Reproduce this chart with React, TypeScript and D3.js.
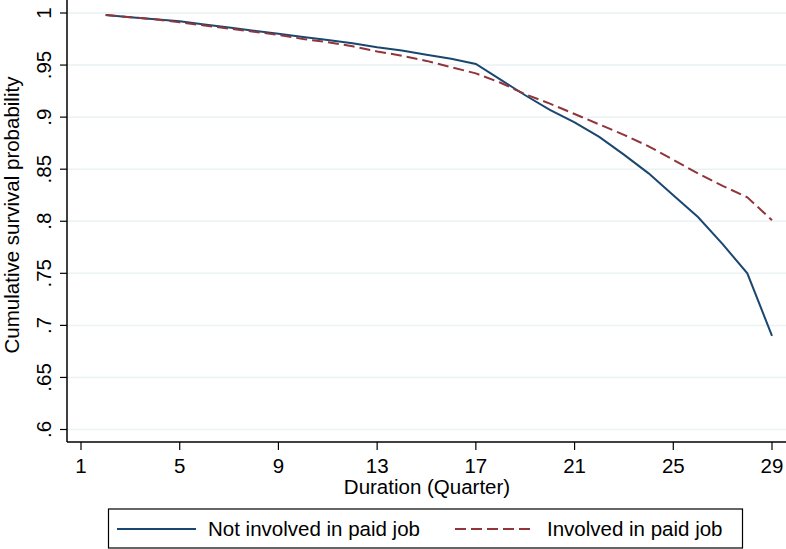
import React from "react";
import * as d3 from "d3";

const quarters = [2, 3, 4, 5, 6, 7, 8, 9, 10, 11, 12, 13, 14, 15, 16, 17, 18, 19, 20, 21, 22, 23, 24, 25, 26, 27, 28, 29];
const notInvolved = [0.998, 0.996, 0.994, 0.992, 0.989, 0.986, 0.983, 0.98, 0.977, 0.974, 0.971, 0.967, 0.964, 0.96, 0.956, 0.951, 0.936, 0.921, 0.907, 0.895, 0.881, 0.864, 0.846, 0.825, 0.804, 0.778, 0.75, 0.69];
const involved = [0.998, 0.996, 0.994, 0.991, 0.988, 0.985, 0.982, 0.979, 0.975, 0.972, 0.968, 0.963, 0.959, 0.954, 0.948, 0.942, 0.933, 0.922, 0.913, 0.903, 0.893, 0.883, 0.872, 0.859, 0.846, 0.834, 0.823, 0.801];
const xTicks = [1, 5, 9, 13, 17, 21, 25, 29];
const yTicks = [0.6, 0.65, 0.7, 0.75, 0.8, 0.85, 0.9, 0.95, 1];
const seriesNames = ["Not involved in paid job", "Involved in paid job"];

const W = 786;
const H = 549;
const font = "'Liberation Sans', Arial, Helvetica, sans-serif";
const fs = 20.5;
const navy = "#1a476f";
const maroon = "#90353b";

export default function App() {
  const x = d3.scaleLinear().domain([1, 29]).range([81, 772]);
  const y = d3.scaleLinear().domain([0.6, 1]).range([429.5, 13]);
  const axisY = 442;
  const axisX = 67;

  const line = d3
    .line<number>()
    .x((_, i) => x(quarters[i]))
    .y((d) => y(d));

  const fmt = (v: number) => (v === 1 ? "1" : d3.format(".2~f")(v).replace(/^0/, ""));

  return (
    <div style={{ position: "absolute", left: 0, top: 0 }}>
      <svg width={W} height={H} style={{ display: "block", background: "#fff" }} fontFamily={font}>
        {/* grid */}
        {yTicks.map((t) => (
          <line key={"g" + t} x1={axisX} x2={W} y1={y(t)} y2={y(t)} stroke="#eaf2f3" strokeWidth={1.5} />
        ))}

        {/* series */}
        <path d={line(notInvolved) || ""} fill="none" stroke={navy} strokeWidth={2} />
        <path d={line(involved) || ""} fill="none" stroke={maroon} strokeWidth={2} strokeDasharray="11 5" />

        {/* axes */}
        <line x1={axisX} x2={axisX} y1={0} y2={axisY} stroke="#000" strokeWidth={1.5} />
        <line x1={axisX} x2={W} y1={axisY} y2={axisY} stroke="#000" strokeWidth={1.5} />
        {yTicks.map((t) => (
          <g key={"y" + t}>
            <line x1={axisX - 7} x2={axisX} y1={y(t)} y2={y(t)} stroke="#000" strokeWidth={1.2} />
            <text
              transform={`translate(${axisX - 16},${y(t)}) rotate(-90)`}
              textAnchor="middle"
              fontSize={fs}
              fill="#000"
            >
              {fmt(t)}
            </text>
          </g>
        ))}
        {xTicks.map((t) => (
          <g key={"x" + t}>
            <line x1={x(t)} x2={x(t)} y1={axisY} y2={axisY + 8} stroke="#000" strokeWidth={1.2} />
            <text x={x(t)} y={axisY + 31} textAnchor="middle" fontSize={fs} fill="#000">
              {t}
            </text>
          </g>
        ))}

        {/* axis titles */}
        <text x={427} y={494} textAnchor="middle" fontSize={fs} fill="#000">
          Duration (Quarter)
        </text>
        <text transform={`translate(18.5,215) rotate(-90)`} textAnchor="middle" fontSize={fs} fill="#000">
          Cumulative survival probability
        </text>

        {/* legend */}
        <rect x={108.5} y={509} width={634} height={39} fill="#fff" stroke="#000" strokeWidth={1.2} />
        <line x1={117} x2={196} y1={529} y2={529} stroke={navy} strokeWidth={2} />
        <text x={208} y={536} fontSize={fs} fill="#000">
          {seriesNames[0]}
        </text>
        <line x1={455} x2={535} y1={529} y2={529} stroke={maroon} strokeWidth={2} strokeDasharray="11 5" />
        <text x={547} y={536} fontSize={fs} fill="#000">
          {seriesNames[1]}
        </text>
      </svg>
    </div>
  );
}
